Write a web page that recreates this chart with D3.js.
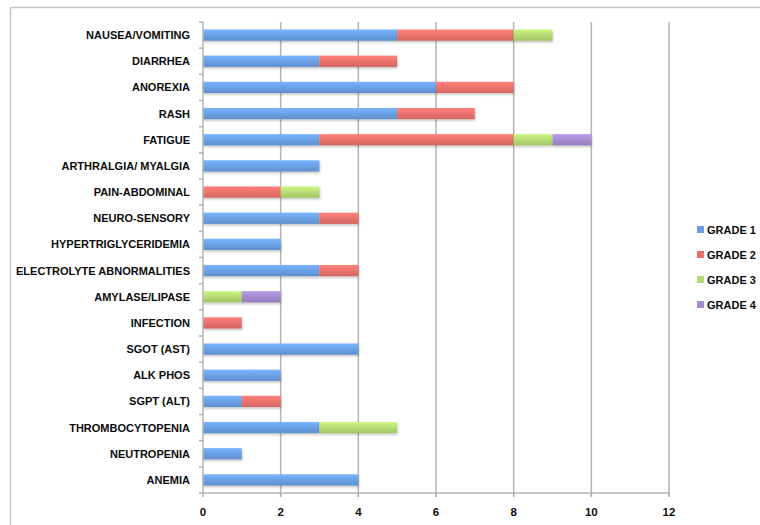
<!DOCTYPE html>
<html>
<head>
<meta charset="utf-8">
<script src="https://cdn.jsdelivr.net/npm/d3@7"></script>
<style>
  body { margin: 0; background: #fff; }
  text { font-family: "Liberation Sans", Arial, sans-serif; font-weight: bold; fill: #0c0c0c; }
</style>
</head>
<body>
<script>
// categories, top to bottom
var categories = ["NAUSEA/VOMITING", "DIARRHEA", "ANOREXIA", "RASH", "FATIGUE",
  "ARTHRALGIA/ MYALGIA", "PAIN-ABDOMINAL", "NEURO-SENSORY", "HYPERTRIGLYCERIDEMIA",
  "ELECTROLYTE ABNORMALITIES", "AMYLASE/LIPASE", "INFECTION", "SGOT (AST)", "ALK PHOS",
  "SGPT (ALT)", "THROMBOCYTOPENIA", "NEUTROPENIA", "ANEMIA"];

var series = ["GRADE 1", "GRADE 2", "GRADE 3", "GRADE 4"];
var grade1 = [5, 3, 6, 5, 3, 3, 0, 3, 2, 3, 0, 0, 4, 2, 1, 3, 1, 4];
var grade2 = [3, 2, 2, 2, 5, 0, 2, 1, 0, 1, 0, 1, 0, 0, 1, 0, 0, 0];
var grade3 = [1, 0, 0, 0, 1, 0, 1, 0, 0, 0, 1, 0, 0, 0, 0, 2, 0, 0];
var grade4 = [0, 0, 0, 0, 1, 0, 0, 0, 0, 0, 1, 0, 0, 0, 0, 0, 0, 0];
var xTicks = [0, 2, 4, 6, 8, 10, 12];

var colors = ["#6a9fe3", "#e9716c", "#b5da72", "#a48bcf"];

var width = 760, height = 525;
var margin = {left: 203, top: 22, right: 91, bottom: 32};

var svg = d3.select("body").append("svg")
  .attr("width", width)
  .attr("height", height);

// outer frame
svg.append("rect")
  .attr("x", 10.5).attr("y", 7.5)
  .attr("width", 800).attr("height", 600)
  .attr("fill", "none")
  .attr("stroke", "#c6c6c6")
  .attr("stroke-width", 1.5);

var defs = svg.append("defs");
colors.forEach(function(c, i) {
  var g = defs.append("linearGradient")
    .attr("id", "grad" + i)
    .attr("x1", 0).attr("y1", 0).attr("x2", 0).attr("y2", 1);
  g.append("stop").attr("offset", "0%").attr("stop-color", d3.color(c).brighter(0.35));
  g.append("stop").attr("offset", "55%").attr("stop-color", c);
  g.append("stop").attr("offset", "100%").attr("stop-color", d3.color(c).darker(0.3));
});
var filt = defs.append("filter").attr("id", "shadow")
  .attr("x", "-5%").attr("y", "-30%").attr("width", "110%").attr("height", "180%");
filt.append("feDropShadow")
  .attr("dx", 0.5).attr("dy", 1.5).attr("stdDeviation", 1)
  .attr("flood-color", "#000").attr("flood-opacity", 0.25);

var x = d3.scaleLinear()
  .domain([0, 12])
  .range([margin.left, width - margin.right]);

var y = d3.scaleBand()
  .domain(categories)
  .range([margin.top, height - margin.bottom])
  .paddingInner(0.57)
  .paddingOuter(0.285);

// gridlines
svg.append("g")
  .selectAll("line")
  .data(xTicks.slice(1))
  .enter().append("line")
  .attr("x1", function(d) { return x(d); })
  .attr("x2", function(d) { return x(d); })
  .attr("y1", margin.top)
  .attr("y2", height - margin.bottom + 4)
  .attr("stroke", "#b4b4b4")
  .attr("stroke-width", 1.5);

// stacked data
var rows = categories.map(function(c, i) {
  return {cat: c, "GRADE 1": grade1[i], "GRADE 2": grade2[i], "GRADE 3": grade3[i], "GRADE 4": grade4[i]};
});
var stacked = d3.stack().keys(series)(rows);

svg.append("g").selectAll("g")
  .data(stacked)
  .enter().append("g")
  .attr("fill", function(d, i) { return "url(#grad" + i + ")"; })
  .attr("filter", "url(#shadow)")
  .selectAll("rect")
  .data(function(d) { return d.filter(function(s) { return s[1] > s[0]; }); })
  .enter().append("rect")
  .attr("x", function(d) { return x(d[0]); })
  .attr("width", function(d) { return x(d[1]) - x(d[0]); })
  .attr("y", function(d) { return y(d.data.cat); })
  .attr("height", y.bandwidth());

// y axis
var yAxisG = svg.append("g")
  .attr("transform", "translate(" + margin.left + ",0)");
yAxisG.append("line")
  .attr("x1", 0).attr("x2", 0)
  .attr("y1", margin.top).attr("y2", height - margin.bottom)
  .attr("stroke", "#b4b4b4").attr("stroke-width", 1.5);
var step = y.step();
var bounds = d3.range(categories.length + 1).map(function(i) { return margin.top + i * step; });
yAxisG.selectAll(".ytick")
  .data(bounds)
  .enter().append("line")
  .attr("x1", -4).attr("x2", 0)
  .attr("y1", function(d) { return d; })
  .attr("y2", function(d) { return d; })
  .attr("stroke", "#b4b4b4").attr("stroke-width", 1.5);
yAxisG.selectAll(".ylab")
  .data(categories)
  .enter().append("text")
  .attr("x", -13)
  .attr("y", function(d) { return y(d) + y.bandwidth() / 2; })
  .attr("dy", "0.36em")
  .attr("text-anchor", "end")
  .style("font-size", "11px")
  .text(function(d) { return d; });

// x axis
var xAxisG = svg.append("g");
xAxisG.append("line")
  .attr("x1", x(0)).attr("x2", x(12))
  .attr("y1", height - margin.bottom).attr("y2", height - margin.bottom)
  .attr("stroke", "#b4b4b4").attr("stroke-width", 1.5);
xAxisG.selectAll(".xtick")
  .data(xTicks)
  .enter().append("line")
  .attr("x1", function(d) { return x(d); })
  .attr("x2", function(d) { return x(d); })
  .attr("y1", height - margin.bottom)
  .attr("y2", height - margin.bottom + 4)
  .attr("stroke", "#b4b4b4").attr("stroke-width", 1.5);
xAxisG.selectAll(".xlab")
  .data(xTicks)
  .enter().append("text")
  .attr("x", function(d) { return x(d); })
  .attr("y", 516)
  .attr("text-anchor", "middle")
  .style("font-size", "11.5px")
  .text(function(d) { return d; });

// legend
var legend = svg.append("g")
  .attr("transform", "translate(697,230)");
var li = legend.selectAll("g")
  .data(series)
  .enter().append("g")
  .attr("transform", function(d, i) { return "translate(0," + i * 25 + ")"; });
li.append("rect")
  .attr("x", 0).attr("y", -4)
  .attr("width", 7).attr("height", 7)
  .attr("fill", function(d, i) { return colors[i]; });
li.append("text")
  .attr("x", 10)
  .attr("y", 0)
  .attr("dy", "0.36em")
  .style("font-size", "11px")
  .text(function(d) { return d; });
</script>
</body>
</html>
